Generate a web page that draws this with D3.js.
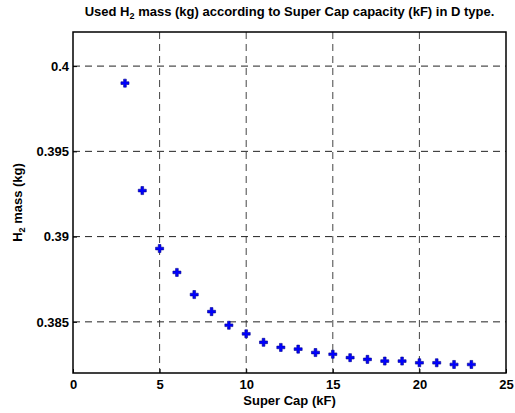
<!DOCTYPE html>
<html>
<head>
<meta charset="utf-8">
<script src="https://cdn.jsdelivr.net/npm/d3@7"></script>
<style>
  body { margin: 0; background: #fff; }
  text { font-family: "Liberation Sans", Arial, sans-serif; font-weight: bold; fill: #000; }
</style>
</head>
<body>
<div id="chart"></div>
<script>
// Data
var capacity = [3, 4, 5, 6, 7, 8, 9, 10, 11, 12, 13, 14, 15, 16, 17, 18, 19, 20, 21, 22, 23];
var h2Mass   = [0.3990, 0.3927, 0.3893, 0.3879, 0.3866, 0.3856, 0.3848, 0.3843, 0.3838,
                0.3835, 0.3834, 0.3832, 0.3831, 0.3829, 0.3828, 0.3827, 0.3827, 0.3826,
                0.3826, 0.3825, 0.3825];
var xTicks = [0, 5, 10, 15, 20, 25];
var yTicks = [0.385, 0.39, 0.395, 0.4];

// Canvas
var W = 515, H = 413;
var margin = { top: 32, right: 9, bottom: 40, left: 73 };
var width  = W - margin.left - margin.right;
var height = H - margin.top - margin.bottom;

var svg = d3.select("#chart").append("svg")
  .attr("width", W)
  .attr("height", H);

var g = svg.append("g")
  .attr("transform", "translate(" + margin.left + "," + margin.top + ")");

// Scales
var x = d3.scaleLinear().domain([0, 25]).range([0, width]);
var y = d3.scaleLinear().domain([0.382, 0.402]).range([height, 0]);

// Grid
g.selectAll(".vgrid").data(xTicks.slice(1, -1)).enter().append("line")
  .attr("x1", x).attr("x2", x)
  .attr("y1", 0).attr("y2", height)
  .attr("stroke", "#444").attr("stroke-width", 1)
  .attr("stroke-dasharray", "7,5");

g.selectAll(".hgrid").data(yTicks).enter().append("line")
  .attr("x1", 0).attr("x2", width)
  .attr("y1", y).attr("y2", y)
  .attr("stroke", "#222").attr("stroke-width", 1)
  .attr("stroke-dasharray", "7,5");

// Axes (inner ticks, MATLAB style)
var xAxis = g.append("g")
  .attr("transform", "translate(0," + height + ")")
  .call(d3.axisBottom(x).tickValues(xTicks).tickSizeInner(-4).tickSizeOuter(0).tickPadding(7).tickFormat(d3.format("d")));

var yAxis = g.append("g")
  .call(d3.axisLeft(y).tickValues(yTicks).tickSizeInner(-4).tickSizeOuter(0).tickPadding(4).tickFormat(function(d) { return String(+d.toFixed(3)); }));

[xAxis, yAxis].forEach(function(a) {
  a.select(".domain").remove();
  a.selectAll("line").attr("stroke", "#000");
  a.selectAll("text").style("font-size", "13px").style("font-weight", "bold");
});

// Box
g.append("rect")
  .attr("width", width).attr("height", height)
  .attr("fill", "none").attr("stroke", "#000").attr("stroke-width", 1.5);

// Points
g.selectAll(".pt").data(capacity).enter().append("path")
  .attr("d", d3.symbol().type(d3.symbolCross).size(36))
  .attr("transform", function(d, i) { return "translate(" + x(d) + "," + y(h2Mass[i]) + ")"; })
  .attr("fill", "#0000ff")
  .attr("stroke", "#00008a")
  .attr("stroke-width", 0.6);

// Labels
var title = svg.append("text")
  .attr("x", margin.left + width / 2)
  .attr("y", 16)
  .attr("text-anchor", "middle")
  .style("font-size", "13px");
title.append("tspan").text("Used H");
title.append("tspan").attr("dy", 3).style("font-size", "9px").text("2");
title.append("tspan").attr("dy", -3).text(" mass (kg) according to Super Cap capacity (kF) in D type.");

svg.append("text")
  .attr("x", margin.left + width / 2)
  .attr("y", 405)
  .attr("text-anchor", "middle")
  .style("font-size", "13px")
  .text("Super Cap (kF)");

var yLabel = svg.append("text")
  .attr("transform", "translate(22," + (margin.top + height / 2) + ") rotate(-90)")
  .attr("text-anchor", "middle")
  .style("font-size", "13px");
yLabel.append("tspan").text("H");
yLabel.append("tspan").attr("dy", 3).style("font-size", "9px").text("2");
yLabel.append("tspan").attr("dy", -3).text(" mass (kg)");
</script>
</body>
</html>
